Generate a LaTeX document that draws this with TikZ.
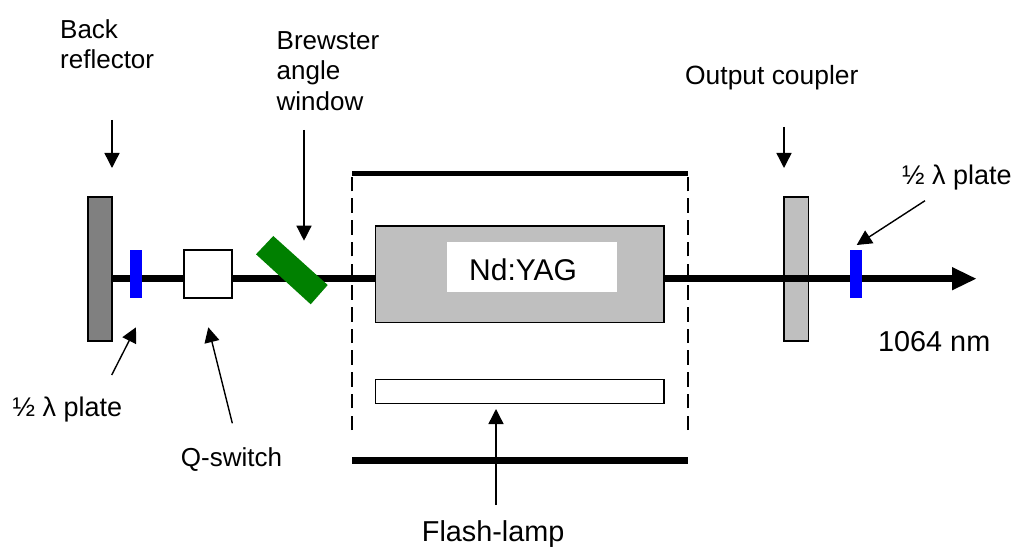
\documentclass[tikz,border=0pt]{standalone}
\usepackage{fontspec}
\setmainfont{Liberation Sans}
\usetikzlibrary{arrows.meta}
\definecolor{midgray}{rgb}{0.5,0.5,0.5}
\definecolor{lightgray}{rgb}{0.75,0.75,0.75}
\definecolor{platecol}{rgb}{0,0,1}
\definecolor{wincol}{rgb}{0,0.5,0}
\tikzset{
 lbl/.style={inner sep=0pt,align=left,anchor=base west,font=\fontsize{26}{30.5}\selectfont,text=black},
 biglbl/.style={lbl,font=\fontsize{28.8}{30.5}\selectfont},
 thin arrow/.style={-{Stealth[length=15pt,width=15pt,inset=0pt]},line width=1.4pt},
 box/.style={draw=black,line width=1.5pt,inner sep=0pt,outer sep=0pt,anchor=north west},
 plate/.style={fill=platecol,inner sep=0,outer sep=0pt,minimum width=12,minimum height=48},
 walldash/.style={line width=1.5pt,dash pattern=on 14.5pt off 7.2pt},
}
\begin{document}
\begin{tikzpicture}[x=1pt,y=-1pt]
\useasboundingbox (0,0) rectangle (1015,548);
\node[box,fill=midgray,minimum width=24,minimum height=144] (refl) at (88,197) {};
\coordinate (tipbase) at (952,278.7);
\coordinate (tip) at (976,278.7);
\draw[line width=7.3pt] (refl.east |- tip) -- (tipbase);
\fill (952,267) -- (tip) -- (952,290.4) -- cycle;
\node[plate] (hw1) at (136,274) {};
\node[box,fill=white,minimum width=48,minimum height=48] (qs) at (184,250) {};
\fill[wincol] (273.3,236) -- (327.7,285) -- (310.7,304.3) -- (256,254.3) -- cycle;
\node[box,fill=lightgray,minimum width=288.5,minimum height=96.5] (yag) at (375.7,225.8) {};
\node[fill=white,anchor=north west,minimum width=169.7,minimum height=49.7,inner sep=0,outer sep=0] (yt) at (447.3,242) {};
\node[biglbl,font=\fontsize{30}{30}\selectfont] at (469,280.7) {Nd:YAG};
\node[box,fill=white,minimum width=288.5,minimum height=24] (fl) at (375.7,379.3) {};
\node[box,fill=lightgray,minimum width=24.5,minimum height=144] (oc) at (784,197) {};
\draw[line width=7.3pt] (oc.west |- tip) -- (oc.east |- tip);
\node[plate] (hw2) at (856,274) {};
\coordinate (a) at (352,173.3); \coordinate (b) at (688,173.3);
\coordinate (c) at (352,430); \coordinate (d) at (688,430);
\coordinate (e) at (352,460.3); \coordinate (f) at (688,460.3);
\draw[line width=5.3pt] (a) -- (b);
\draw[line width=7.5pt] (e) -- (f);
\draw[walldash] (c) -- (a);
\draw[walldash] (d) -- (b);
\node[lbl,anchor=north west] (t1) at (60,19.3) {Back\\reflector};
\node[lbl,anchor=north west] (t2) at (276.5,31.4) {Brewster\\angle\\window};
\node[lbl,font=\fontsize{26.4}{30}\selectfont] (t3) at (685,85) {Output coupler};
\node[lbl,font=\fontsize{27}{30}\selectfont] (t4) at (902,185) {½ λ plate};
\node[biglbl] (t5) at (878,351.7) {1064 nm};
\node[lbl,anchor=base east,font=\fontsize{27}{30}\selectfont] (t6) at (122.3,416.7) {½ λ plate};
\node[lbl] (t7) at (180.7,466.7) {Q-switch};
\node[biglbl] (t8) at (421.7,541) {Flash-lamp};
\coordinate (p1) at (112,120); \coordinate (p2) at (304,130); \coordinate (p3) at (784,127); \coordinate (p4) at (925,200.7);
\coordinate (p5) at (111.7,375); \coordinate (p6) at (232.3,423.3); \coordinate (p7) at (496,505);
\draw[thin arrow] (p1) -- (112,168);
\draw[thin arrow] (p2) -- (304,240.7);
\draw[thin arrow] (p3) -- (784,168);
\draw[thin arrow] (p4) -- (856.7,245);
\draw[thin arrow] (p5) -- (136,327.3);
\draw[thin arrow] (p6) -- (208.3,327.3);
\draw[thin arrow] (p7) -- (496,409);
\end{tikzpicture}
\end{document}
